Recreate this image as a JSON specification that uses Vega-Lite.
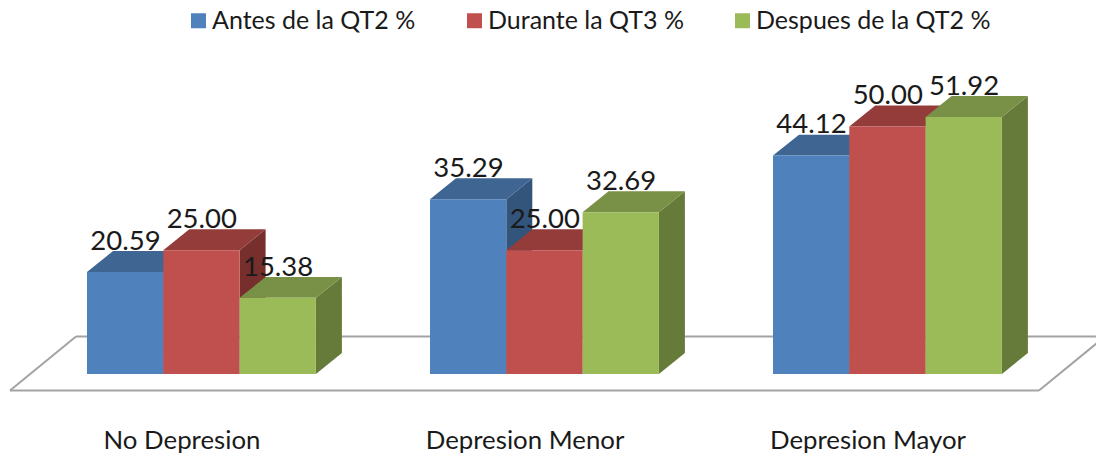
{
"$schema":"https://vega.github.io/schema/vega-lite/v6.json",
"width":1096,"height":457,"padding":0,
"autosize":{"type":"fit","contains":"padding"},
"background":"white",
"view":{"stroke":null},
"config":{"font":"Lato"},
"data":{"values":[
{"categoria":"No Depresion","serie":"Antes de la QT2 %","valor":20.59},
{"categoria":"No Depresion","serie":"Durante la QT3 %","valor":25.00},
{"categoria":"No Depresion","serie":"Despues de la QT2 %","valor":15.38},
{"categoria":"Depresion Menor","serie":"Antes de la QT2 %","valor":35.29},
{"categoria":"Depresion Menor","serie":"Durante la QT3 %","valor":25.00},
{"categoria":"Depresion Menor","serie":"Despues de la QT2 %","valor":32.69},
{"categoria":"Depresion Mayor","serie":"Antes de la QT2 %","valor":44.12},
{"categoria":"Depresion Mayor","serie":"Durante la QT3 %","valor":50.00},
{"categoria":"Depresion Mayor","serie":"Despues de la QT2 %","valor":51.92}
]},
"transform":[
{"calculate":"indexof(['No Depresion','Depresion Menor','Depresion Mayor'],datum.categoria)","as":"c"},
{"calculate":"indexof(['Antes de la QT2 %','Durante la QT3 %','Despues de la QT2 %'],datum.serie)","as":"s"},
{"calculate":"87+343*datum.c+76.3*datum.s","as":"x0"},
{"calculate":"datum.x0+76.3","as":"x1"},
{"calculate":"[0,1]","as":"ts"},
{"flatten":["ts"],"as":["t"]},
{"calculate":"datum.x1+26*datum.t","as":"sx"},
{"calculate":"datum.valor+4.24*datum.t","as":"sy"},
{"calculate":"4.24*datum.t","as":"sy2"},
{"calculate":"datum.x0+26*datum.t","as":"tx"},
{"calculate":"datum.x0+38.5","as":"lx"},
{"calculate":"datum.valor+6.1","as":"ly"},
{"calculate":"87+343*datum.c+95","as":"cx"}
],
"layer":[
{"data":{"values":[{}]},"mark":{"type":"rule","stroke":"#a3a3a3","strokeWidth":2,"clip":true},"encoding":{"x":{"datum":10,"type":"quantitative","scale":{"domain":[0,1096],"nice":false,"zero":false},"axis":null},"x2":{"datum":1039},"y":{"datum":-3.33,"type":"quantitative","scale":{"domain":[-16.77,75.56],"nice":false,"zero":false},"axis":null},"y2":{"datum":-3.33}}},
{"data":{"values":[{}]},"mark":{"type":"rule","stroke":"#a3a3a3","strokeWidth":2,"clip":true},"encoding":{"x":{"datum":10,"type":"quantitative"},"x2":{"datum":76},"y":{"datum":-3.33,"type":"quantitative"},"y2":{"datum":7.58}}},
{"data":{"values":[{}]},"mark":{"type":"rule","stroke":"#a3a3a3","strokeWidth":2,"clip":true},"encoding":{"x":{"datum":76,"type":"quantitative"},"x2":{"datum":1105},"y":{"datum":7.58,"type":"quantitative"},"y2":{"datum":7.58}}},
{"data":{"values":[{}]},"mark":{"type":"rule","stroke":"#a3a3a3","strokeWidth":2,"clip":true},"encoding":{"x":{"datum":1039,"type":"quantitative"},"x2":{"datum":1105},"y":{"datum":-3.33,"type":"quantitative"},"y2":{"datum":7.58}}},

{"transform":[{"filter":"datum.s==0"}],"mark":{"type":"area","orient":"vertical","fill":"#34557b"},"encoding":{"x":{"field":"sx","type":"quantitative"},"y":{"field":"sy","type":"quantitative"},"y2":{"field":"sy2"},"detail":{"field":"c","type":"ordinal"}}},
{"transform":[{"filter":"datum.s==0 && datum.t==0"}],"mark":{"type":"text","fontSize":27.5,"color":"#1a1a1a","baseline":"middle"},"encoding":{"x":{"field":"lx","type":"quantitative"},"y":{"field":"ly","type":"quantitative"},"text":{"field":"valor","type":"quantitative","format":".2f"}}},
{"transform":[{"filter":"datum.s==0"}],"mark":{"type":"area","orient":"horizontal","fill":"#3f6592"},"encoding":{"y":{"field":"sy","type":"quantitative"},"x":{"field":"tx","type":"quantitative"},"x2":{"field":"sx"},"detail":{"field":"c","type":"ordinal"}}},
{"transform":[{"filter":"datum.s==0 && datum.t==0"}],"mark":{"type":"rect"},"encoding":{"x":{"field":"x0","type":"quantitative"},"x2":{"field":"x1"},"y":{"field":"valor","type":"quantitative"},"y2":{"datum":0},"color":{"field":"serie","type":"nominal","scale":{"domain":["Antes de la QT2 %","Durante la QT3 %","Despues de la QT2 %"],"range":["#4f81bd","#c0504d","#9bbb59"]},"legend":{"title":null,"orient":"none","legendX":186,"legendY":8,"direction":"horizontal","columns":3,"symbolType":"square","symbolSize":225,"symbolStrokeWidth":0,"labelFontSize":25,"labelColor":"#1a1a1a","labelFont":"Lato","labelOffset":1,"labelLimit":400,"columnPadding":46,"symbolOpacity":1}}}},

{"transform":[{"filter":"datum.s==1"}],"mark":{"type":"area","orient":"vertical","fill":"#772f2d"},"encoding":{"x":{"field":"sx","type":"quantitative"},"y":{"field":"sy","type":"quantitative"},"y2":{"field":"sy2"},"detail":{"field":"c","type":"ordinal"}}},
{"transform":[{"filter":"datum.s==1 && datum.t==0"}],"mark":{"type":"text","fontSize":27.5,"color":"#1a1a1a","baseline":"middle"},"encoding":{"x":{"field":"lx","type":"quantitative"},"y":{"field":"ly","type":"quantitative"},"text":{"field":"valor","type":"quantitative","format":".2f"}}},
{"transform":[{"filter":"datum.s==1"}],"mark":{"type":"area","orient":"horizontal","fill":"#943c3a"},"encoding":{"y":{"field":"sy","type":"quantitative"},"x":{"field":"tx","type":"quantitative"},"x2":{"field":"sx"},"detail":{"field":"c","type":"ordinal"}}},
{"transform":[{"filter":"datum.s==1 && datum.t==0"}],"mark":{"type":"rect"},"encoding":{"x":{"field":"x0","type":"quantitative"},"x2":{"field":"x1"},"y":{"field":"valor","type":"quantitative"},"y2":{"datum":0},"color":{"field":"serie","type":"nominal"}}},

{"transform":[{"filter":"datum.s==2"}],"mark":{"type":"area","orient":"vertical","fill":"#667a39"},"encoding":{"x":{"field":"sx","type":"quantitative"},"y":{"field":"sy","type":"quantitative"},"y2":{"field":"sy2"},"detail":{"field":"c","type":"ordinal"}}},
{"transform":[{"filter":"datum.s==2 && datum.t==0"}],"mark":{"type":"text","fontSize":27.5,"color":"#1a1a1a","baseline":"middle"},"encoding":{"x":{"field":"lx","type":"quantitative"},"y":{"field":"ly","type":"quantitative"},"text":{"field":"valor","type":"quantitative","format":".2f"}}},
{"transform":[{"filter":"datum.s==2"}],"mark":{"type":"area","orient":"horizontal","fill":"#799146"},"encoding":{"y":{"field":"sy","type":"quantitative"},"x":{"field":"tx","type":"quantitative"},"x2":{"field":"sx"},"detail":{"field":"c","type":"ordinal"}}},
{"transform":[{"filter":"datum.s==2 && datum.t==0"}],"mark":{"type":"rect"},"encoding":{"x":{"field":"x0","type":"quantitative"},"x2":{"field":"x1"},"y":{"field":"valor","type":"quantitative"},"y2":{"datum":0},"color":{"field":"serie","type":"nominal"}}},

{"transform":[{"filter":"datum.s==0 && datum.t==0"},{"calculate":"-13.6","as":"cy"}],"mark":{"type":"text","fontSize":25.8,"color":"#1a1a1a","baseline":"middle"},"encoding":{"x":{"field":"cx","type":"quantitative"},"y":{"field":"cy","type":"quantitative"},"text":{"field":"categoria"}}}
]
}
